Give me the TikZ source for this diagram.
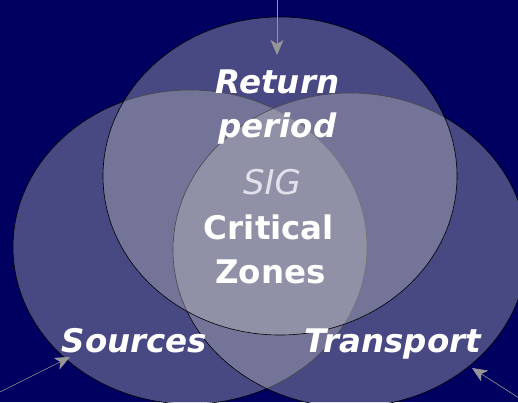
\documentclass[tikz,border=0pt]{standalone}
\usepackage{fontspec}
\newfontfamily\vf{DejaVu Sans}
\usetikzlibrary{arrows.meta}
\definecolor{bgnavy}{RGB}{0,0,96}
\definecolor{setfill}{RGB}{190,190,190}
\definecolor{arrowgray}{RGB}{150,150,150}
\definecolor{siggray}{RGB}{225,225,235}
\tikzset{
  setshape/.style={fill=setfill,fill opacity=0.38,draw=black,draw opacity=1,line width=0.6pt},
  lbl/.style={anchor=base,inner sep=0pt,text=white,font=\vf\bfseries\itshape\fontsize{32.5}{32.5}\selectfont},
  lblup/.style={anchor=base,inner sep=0pt,text=white,font=\vf\bfseries\fontsize{32.5}{32.5}\selectfont},
  lblsig/.style={anchor=base,inner sep=0pt,text=siggray,font=\vf\itshape\fontsize{34}{34}\selectfont},
  pointer/.style={draw=arrowgray,line width=0.6pt,-{Stealth[length=15pt,width=13pt,inset=4pt]}}
}
\begin{document}
\begin{tikzpicture}[x=1pt,y=-1pt]
\useasboundingbox (0,0) rectangle (518,402);
\clip (0,0) rectangle (518,402);
\fill[bgnavy] (0,0) rectangle (518,402);
% sets
\path[setshape] (190,247) ellipse [x radius=177pt, y radius=157pt];
\path[setshape] (350,250) ellipse [x radius=177pt, y radius=157pt];
\path[setshape] (280,176) ellipse [x radius=177pt, y radius=159pt];
% labels
\node[lbl] (ret) at (277.5,93) {Return};
\node[lbl] (per) at (277.5,137) {period};
\node[lblsig] (sig) at (272,194) {SIG};
\node[lblup] (cri) at (269,239) {Critical};
\node[lblup] (zon) at (270.5,283) {Zones};
\node[lbl] (src) at (134.5,352) {Sources};
\node[lbl] (trn) at (393,352) {Transport};
% pointers
\coordinate (topstart) at (277,-2);
\coordinate (toptip) at (277,55);
\coordinate (srcstart) at (-2,393);
\coordinate (srctip) at (70,357);
\coordinate (trnstart) at (530,405);
\coordinate (trntip) at (472,368);
\draw[pointer] (topstart) -- (toptip);
\draw[pointer] (srcstart) -- (srctip);
\draw[pointer] (trnstart) -- (trntip);
\end{tikzpicture}
\end{document}
